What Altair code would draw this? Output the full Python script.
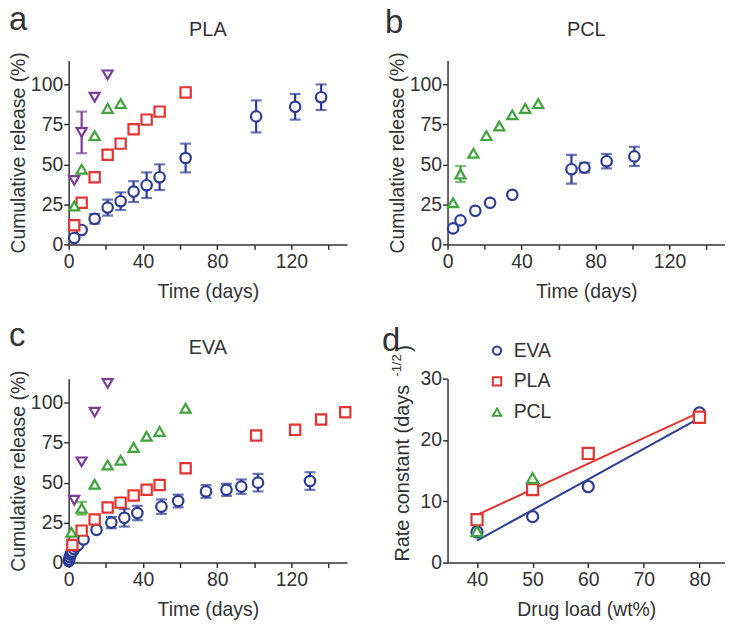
import altair as alt
import pandas as pd

# ---------------- data ----------------
# Panel a : PLA  (series by drug load, wt%)
a_t40 = [3, 7, 14, 21, 28, 35, 42, 49, 63, 101, 122, 136]
a_y40 = [4, 9, 16, 23, 27, 33, 37, 42, 54, 80, 86, 92]
a_e40 = [0, 1.5, 3, 5, 5.5, 6.5, 8, 8, 9, 10, 8, 8]
a_t50 = [3, 7, 14, 21, 28, 35, 42, 49, 63]
a_y50 = [12, 26, 42, 56, 63, 72, 78, 83, 95]
a_t60 = [3, 7, 14, 21, 28]
a_y60 = [24, 47, 68, 85, 88]
a_t80 = [3, 7, 14, 21]
a_y80 = [40, 70, 92, 106]
a_e80 = [0, 13, 0, 0]

# Panel b : PCL
b_t40 = [3, 7, 15, 23, 35, 67, 74, 86, 101]
b_y40 = [10, 15, 21, 26, 31, 47, 48, 52, 55]
b_e40 = [0, 0, 0, 0, 0, 9, 3, 4.5, 6]
b_t60 = [3, 7, 14, 21, 28, 35, 42, 49]
b_y60 = [26, 44, 57, 68, 74, 81, 85, 88]
b_e60 = [0, 5, 0, 0, 0, 0, 0, 0]

# Panel c : EVA
c_t40 = [0.1, 0.3, 0.6, 1, 1.5, 2, 3, 4, 5, 8, 15, 23, 30, 37, 50, 59, 74, 85, 93, 102, 130]
c_y40 = [1, 2, 3.5, 5, 6, 7, 8.5, 10, 11, 14.5, 20.5, 25, 28, 31, 35, 38.5, 44.5, 45.5, 47.5, 50, 51]
c_e40 = [0, 0, 0, 0, 0, 0, 0, 0, 0, 1, 1.5, 3.5, 5.5, 4.5, 4.5, 4, 4, 3.8, 4.5, 5.5, 5.5]
c_t50 = [2, 7, 14, 21, 28, 35, 42, 49, 63, 101, 122, 136, 149]
c_y50 = [11, 20, 27, 34.5, 37.5, 42, 45.5, 48.5, 59, 79.5, 83, 89.5, 94]
c_t60 = [1.5, 7, 14, 21, 28, 35, 42, 49, 63]
c_y60 = [19, 34, 49, 61, 64, 72, 79, 82, 96.5]
c_e60 = [0, 4, 0, 0, 0, 0, 0, 0, 0]
c_t80 = [3, 7, 14, 21]
c_y80 = [39, 63, 94, 112]

# Panel d : rate constant vs drug load
d_load = [40, 50, 60, 80]
d_eva = [5.0, 7.5, 12.4, 24.4]
d_pla = [7.0, 11.9, 17.8, 23.7]
d_pcl_load = [40, 50]
d_pcl = [5.1, 13.8]

# ---------------- style ----------------
FONT = "Liberation Sans"
TXT = "#333333"
LOADS = ["40", "50", "60", "80"]
COLORS = ["#2a3c96", "#e3342f", "#3fa43b", "#7d3c98"]
SHAPES = ["circle", "square", "triangle-up", "triangle-down"]
SIZES = [110, 100, 125, 125]
FS = 19.5
SW = 2.2


def frame(series):
    rows = []
    for load, ts, ys, es in series:
        if es is None:
            es = [0] * len(ts)
        for t, y, e in zip(ts, ys, es):
            rows.append(dict(load=load, t=t, y=y, lo=y - e, hi=y + e, e=e))
    return pd.DataFrame(rows)


dummy = pd.DataFrame({"k": [0]})


def label(text, x, y, size, align="left", angle=0, baseline="alphabetic"):
    return alt.Chart(dummy).mark_text(
        text=text, font=FONT, fontSize=size, color=TXT, align=align,
        baseline=baseline, angle=angle
    ).encode(x=alt.value(x), y=alt.value(y))


def release_panel(series, title, letter, width, lx, ly):
    df = frame(series)
    xs = alt.Scale(domain=[0, 150], nice=False, zero=False)
    ys = alt.Scale(domain=[0, 115], nice=False, zero=False)
    xax = alt.Axis(values=list(range(0, 141, 20)),
                   labelExpr="datum.value % 40 == 0 ? datum.label : ''",
                   title="Time (days)")
    yax = alt.Axis(values=[0, 25, 50, 75, 100], title="Cumulative release (%)")

    def X(f):
        return alt.X(f, type="quantitative", scale=xs, axis=xax)

    def Y(f):
        return alt.Y(f, type="quantitative", scale=ys, axis=yax)

    cscale = alt.Scale(domain=LOADS, range=COLORS)
    stroke = alt.Stroke("load:N", scale=cscale, legend=None)
    base = alt.Chart(df)
    err = base.transform_filter("datum.e > 0")
    bars = err.mark_rule(strokeWidth=SW).encode(x=X("t"), y=Y("lo"), y2=alt.Y2("hi"), stroke=stroke)
    cap_lo = err.mark_tick(orient="horizontal", size=11, thickness=SW).encode(
        x=X("t"), y=Y("lo"), color=alt.Color("load:N", scale=cscale, legend=None))
    cap_hi = err.mark_tick(orient="horizontal", size=11, thickness=SW).encode(
        x=X("t"), y=Y("hi"), color=alt.Color("load:N", scale=cscale, legend=None))
    pts = base.mark_point(filled=False, fill="white", fillOpacity=1, strokeWidth=SW, opacity=1).encode(
        x=X("t"), y=Y("y"), stroke=stroke,
        shape=alt.Shape("load:N", scale=alt.Scale(domain=LOADS, range=SHAPES), legend=None),
        size=alt.Size("load:N", scale=alt.Scale(domain=LOADS, range=SIZES), legend=None),
    )
    ttl = label(title, width / 2, -25, 20, align="center")
    let = label(letter, lx, ly, 33)
    return alt.layer(bars, cap_lo, cap_hi, pts, ttl, let).properties(width=width, height=185)


panel_a = release_panel(
    [("40", a_t40, a_y40, a_e40), ("50", a_t50, a_y50, None),
     ("60", a_t60, a_y60, None), ("80", a_t80, a_y80, a_e80)],
    "PLA", "a", 280, -60, -31)
panel_b = release_panel(
    [("40", b_t40, b_y40, b_e40), ("60", b_t60, b_y60, b_e60)],
    "PCL", "b", 279, -63, -28)
panel_c = release_panel(
    [("40", c_t40, c_y40, c_e40), ("50", c_t50, c_y50, None),
     ("60", c_t60, c_y60, c_e60), ("80", c_t80, c_y80, None)],
    "EVA", "c", 280, -60, -33)

# ---- panel d ----
POLYS = ["EVA", "PLA", "PCL"]
rows = []
for p, xs_, ys_ in [("EVA", d_load, d_eva), ("PLA", d_load, d_pla), ("PCL", d_pcl_load, d_pcl)]:
    for a, b in zip(xs_, ys_):
        rows.append(dict(polymer=p, load=a, k=b))
dd = pd.DataFrame(rows)

dxs = alt.Scale(domain=[34.7, 84.6], nice=False, zero=False)
dys = alt.Scale(domain=[0, 30], nice=False, zero=False)
dxax = alt.Axis(values=[40, 50, 60, 70, 80], title="Drug load (wt%)")
dyax = alt.Axis(values=[0, 10, 20, 30], title=None)
DX = alt.X("load:Q", scale=dxs, axis=dxax)
DY = alt.Y("k:Q", scale=dys, axis=dyax)

fit_eva = alt.Chart(dd).transform_filter("datum.polymer == 'EVA'").transform_regression(
    "load", "k").mark_line(strokeWidth=2, color=COLORS[0]).encode(x=DX, y=DY)
fit_pla = alt.Chart(dd).transform_filter("datum.polymer == 'PLA'").transform_regression(
    "load", "k").mark_line(strokeWidth=2, color=COLORS[1]).encode(x=DX, y=DY)

leg = alt.Legend(title=None, orient="none", legendX=40, legendY=-38, labelFontSize=FS,
                 labelFont=FONT, labelColor=TXT, symbolSize=70, symbolStrokeWidth=2,
                 rowPadding=10, labelOffset=7, padding=0, symbolFillColor="white")
d_pts = alt.Chart(dd).mark_point(filled=False, fill="white", fillOpacity=1, strokeWidth=SW, opacity=1).encode(
    x=DX, y=DY,
    stroke=alt.Stroke("polymer:N", scale=alt.Scale(domain=POLYS, range=[COLORS[0], COLORS[1], COLORS[2]]), legend=leg),
    shape=alt.Shape("polymer:N", scale=alt.Scale(domain=POLYS, range=["circle", "square", "triangle-up"]), legend=leg),
    size=alt.value(125),
)
d_ytitle = label("Rate constant  (days", -44.7, 184, 20, baseline="middle", angle=270)
d_sup = label("-1/2", -51, -2, 13, baseline="middle", angle=270)
d_par = label(")", -43, -27, 20, baseline="middle", angle=270)
d_let = label("d", -66, -28, 33)
panel_d = alt.layer(fit_eva, fit_pla, d_pts, d_ytitle, d_sup, d_par, d_let).properties(width=279, height=185)

ind = dict(x="independent", y="independent", stroke="independent", shape="independent",
           size="independent", color="independent")
chart = alt.concat(
    panel_a, panel_b, panel_c, panel_d, columns=2,
    spacing={"row": 135, "column": 101}, bounds="flush"
).resolve_scale(**ind).properties(
    padding={"left": 0, "top": -6, "right": 0, "bottom": 0}
).configure(font=FONT).configure_axis(
    domainColor=TXT, domainWidth=1.5, tickColor=TXT, tickWidth=1.5, tickSize=5,
    labelFontSize=FS, titleFontSize=FS, labelColor=TXT, titleColor=TXT,
    labelFont=FONT, titleFont=FONT, titleFontWeight="normal", grid=False,
    labelFlush=False, labelOverlap=False
).configure_axisX(labelPadding=3, titlePadding=12).configure_axisY(
    labelPadding=1, titlePadding=2
).configure_view(stroke=None)

chart.save("out.html", embed_options={"renderer": "svg", "actions": False})
